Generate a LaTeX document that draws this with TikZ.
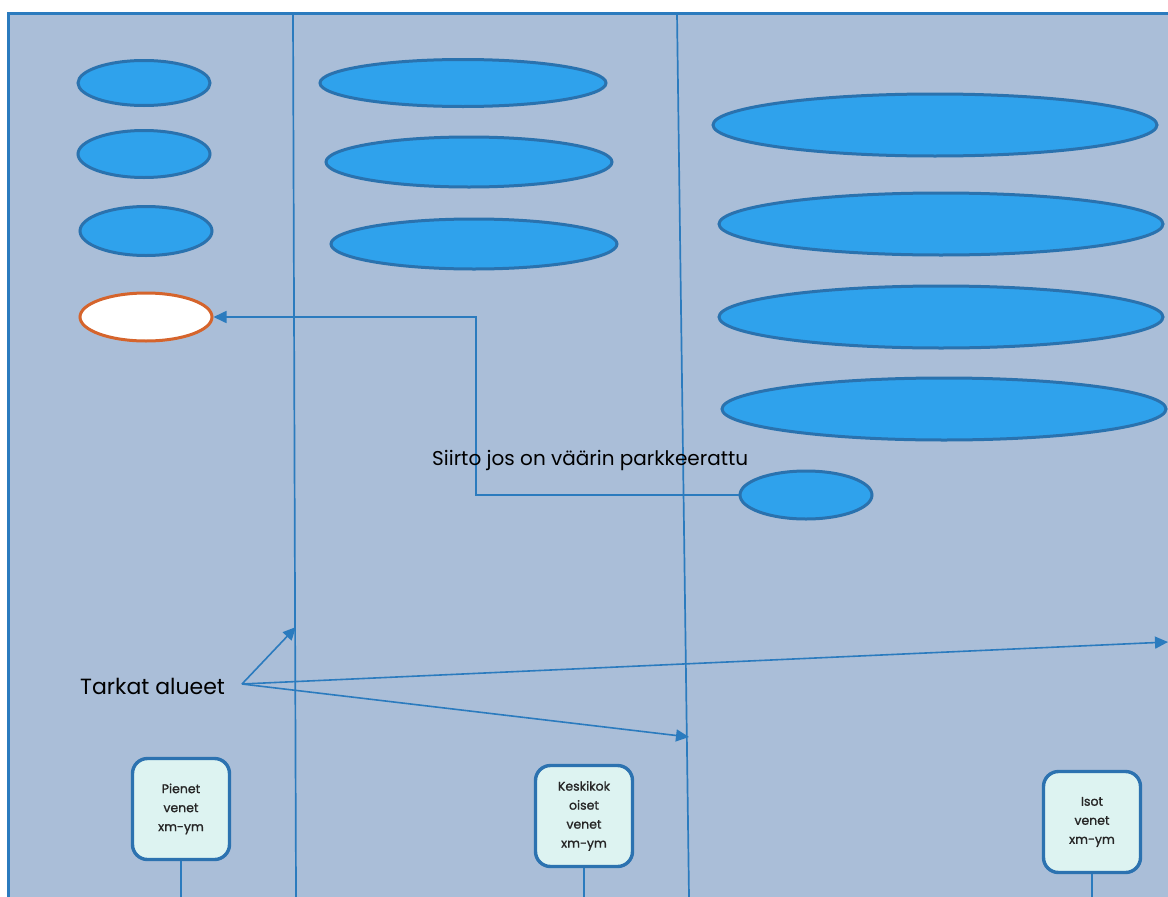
\documentclass[tikz,border=0pt]{standalone}
\usepackage{fontspec}
\setmainfont{Poppins}
\newfontfamily\tagfont[FakeBold=1.2]{Poppins}
\usetikzlibrary{arrows.meta,shapes.geometric}
\definecolor{panel}{HTML}{AABED8}
\definecolor{edge}{HTML}{2B7BBE}
\definecolor{spotfill}{HTML}{2FA2EC}
\definecolor{spotline}{HTML}{2A72AE}
\definecolor{wrongline}{HTML}{D5642C}
\definecolor{tagfill}{HTML}{DDF3F1}
\definecolor{tagline}{HTML}{2C72B0}
\tikzset{
  spot/.style={ellipse, draw=spotline, fill=spotfill, line width=3pt, inner sep=0pt},
  wrongspot/.style={ellipse, draw=wrongline, fill=white, line width=3pt, inner sep=0pt},
  divider/.style={draw=edge, line width=1.7pt},
  link/.style={draw=edge, line width=1.6pt},
  tip/.style={-{Triangle[length=13pt,width=12pt]}},
  tag/.style={draw=tagline, fill=tagfill, line width=3.4pt, rounded corners=15pt,
    minimum width=97pt, minimum height=101pt, align=center,
    font=\tagfont\fontsize{12.5}{19}\selectfont, text=black!85},
  caption/.style={inner sep=0pt, anchor=base west}
}
\begin{document}
\begin{tikzpicture}[x=1pt,y=-1pt]
\useasboundingbox (0,0) rectangle (1168,897);
\fill[white] (0,0) rectangle (1168,897);
% parking area
\fill[panel] (8,13) rectangle (1168,897);
\draw[edge, line width=3pt] (8,897) -- (8,13) -- (1168,13);
% zone dividers
\coordinate (d1t) at (293,13); \coordinate (d1b) at (296,897);
\coordinate (d2t) at (677,13); \coordinate (d2b) at (689,897);
\draw[divider] (d1t) -- (d1b);
\draw[divider] (d2t) -- (d2b);
% small boat spots
\node[spot, minimum width=132pt, minimum height=45pt] (s1) at (144,83) {};
\node[spot, minimum width=132pt, minimum height=47pt] (s2) at (144,154) {};
\node[spot, minimum width=132pt, minimum height=49pt] (s3) at (146,231) {};
\node[wrongspot, minimum width=132pt, minimum height=48pt] (sw) at (146,317) {};
% medium boat spots
\node[spot, minimum width=286pt, minimum height=47pt] (m1) at (463,83) {};
\node[spot, minimum width=286pt, minimum height=50pt] (m2) at (469,162) {};
\node[spot, minimum width=286pt, minimum height=50pt] (m3) at (474,244) {};
% large boat spots
\node[spot, minimum width=444pt, minimum height=62pt] (l1) at (935,125) {};
\node[spot, minimum width=444pt, minimum height=62pt] (l2) at (941,224) {};
\node[spot, minimum width=444pt, minimum height=62pt] (l3) at (941,317) {};
\node[spot, minimum width=444pt, minimum height=62pt] (l4) at (944,409) {};
% misparked boat
\node[spot, minimum width=132pt, minimum height=48pt] (mp) at (806,495) {};
% relocation path
\draw[link, tip] (mp.west) -- (476,495) -- (476,317) -- (sw.east);
\node[caption, font=\fontsize{20}{24}\selectfont] (move) at (432,465) {Siirto jos on väärin parkkeerattu};
% exact areas
\node[caption, font=\fontsize{22}{26}\selectfont] (areas) at (80,694) {Tarkat alueet};
\coordinate (hub) at (242,684);
\coordinate (a1) at (296,627);
\coordinate (a2) at (1168,642);
\coordinate (a3) at (689,737);
\draw[link, tip] (hub) -- (a1);
\draw[link, tip] (hub) -- (a2);
\draw[link, tip] (hub) -- (a3);
% zone labels
\node[tag] (t1) at (181,809) {Pienet\\venet\\xm-ym};
\node[tag] (t2) at (584,816) {Keskikok\\oiset\\venet\\xm-ym};
\node[tag] (t3) at (1092,822) {Isot\\venet\\xm-ym};
\coordinate (t1b) at (181,897);
\coordinate (t2b) at (584,897);
\coordinate (t3b) at (1092,897);
\draw[link] (t1.south) -- (t1b);
\draw[link] (t2.south) -- (t2b);
\draw[link] (t3.south) -- (t3b);
\end{tikzpicture}
\end{document}
